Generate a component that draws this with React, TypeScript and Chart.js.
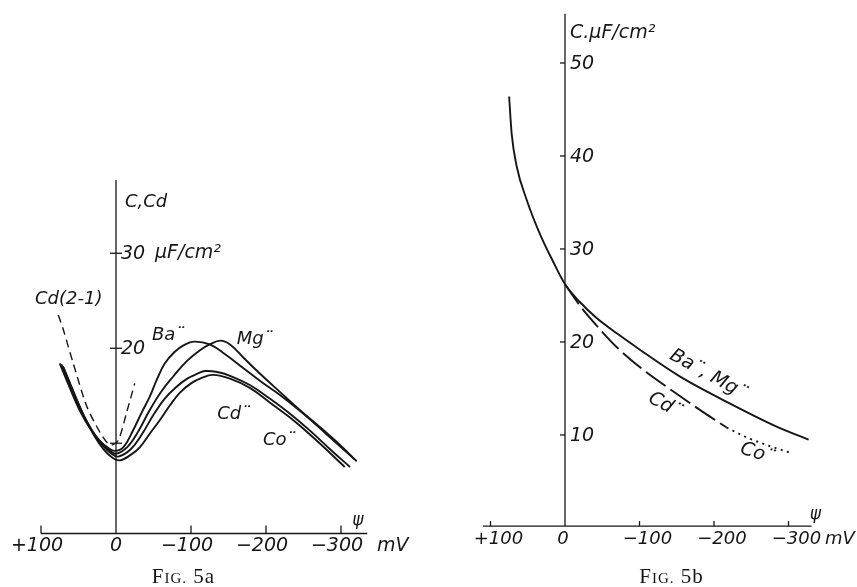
import React, { useEffect, useRef } from "react";
import { Chart, registerables } from "chart.js";

Chart.register(...registerables);

// ---------------- Fig. 5a data (psi in mV, C in µF/cm²) ----------------
const psiBaA = [75, 62, 48, 34, 21, 10, 2, -10, -23, -34, -45, -55, -65, -78, -90, -104, -125, -145, -170, -195, -220, -250, -280, -318];
const cBaA = [18.4, 15.9, 13.4, 11.5, 10.2, 9.5, 9.2, 9.6, 11.4, 13.2, 14.9, 16.8, 18.4, 19.6, 20.3, 20.7, 20.4, 19.4, 17.9, 16.4, 15.0, 13.1, 11.0, 8.3];

const psiMgA = [73, 60, 46, 32, 19, 8, 0, -15, -30, -45, -60, -76, -95, -112, -125, -139, -152, -170, -195, -220, -245, -272, -299, -321];
const cMgA = [18.3, 15.8, 13.3, 11.3, 10.0, 9.2, 8.9, 9.6, 11.3, 13.5, 15.4, 17.0, 18.7, 19.8, 20.4, 20.8, 20.4, 19.0, 17.1, 15.3, 13.5, 11.7, 9.8, 8.1];

const psiCdA = [71, 58, 44, 30, 17, 6, -3, -20, -35, -50, -65, -80, -95, -108, -119, -135, -152, -179, -205, -232, -259, -285, -312];
const cCdA = [18.1, 15.6, 13.1, 11.1, 9.7, 8.9, 8.6, 9.4, 11.0, 13.0, 14.7, 15.9, 16.8, 17.3, 17.6, 17.5, 17.1, 16.1, 14.7, 13.1, 11.3, 9.4, 7.5];

const psiCoA = [70, 57, 43, 29, 16, 5, -5, -20, -32, -45, -59, -72, -85, -100, -115, -129, -152, -179, -205, -232, -259, -285, -305];
const cCoA = [18.0, 15.5, 12.9, 10.8, 9.3, 8.5, 8.2, 8.8, 9.6, 11.0, 12.5, 14.0, 15.3, 16.3, 16.9, 17.2, 16.8, 15.8, 14.3, 12.7, 10.9, 9.0, 7.5];

const psiCd21A = [77, 70, 57, 39, 21, 8, -3, -14, -25];
const cCd21A = [23.5, 21.9, 18.4, 13.9, 11.1, 9.8, 10.3, 13.2, 16.3];

const xTicksA = [100, 0, -100, -200, -300];
const xTickLabelsA = ["+100", "0", "\u2212100", "\u2212200", "\u2212300"];
const yTicksA = [10, 20, 30];
const yTickLabelsA = ["", "20", "30"];

// ---------------- Fig. 5b data ----------------
const psiBaMgB = [75, 71.6, 64.9, 51.5, 33.6, 15.7, 0, -20, -42, -70, -100, -154, -221, -284, -327];
const cBaMgB = [46.4, 42.4, 38.9, 35.3, 31.6, 28.6, 26.2, 24.3, 22.6, 20.9, 19.2, 16.3, 13.4, 10.9, 9.5];

const psiCdB = [0, -20, -42, -70, -105, -145, -181, -217];
const cCdB = [26.2, 23.9, 21.8, 19.4, 17.0, 14.7, 12.7, 10.8];

const psiCoB = [-217, -245, -275, -306];
const cCoB = [10.8, 9.7, 8.8, 8.0];

const xTicksB = [100, 0, -100, -200, -300];
const xTickLabelsB = ["+100", "0", "\u2212100", "\u2212200", "\u2212300"];
const yTicksB = [10, 20, 30, 40, 50];
const yTickLabelsB = ["10", "20", "30", "40", "50"];

// ---------------- helpers ----------------
const INK = "#161616";
const FAM = "'DejaVu Sans', Lato, sans-serif";
const hand = (s: number) => `italic ${s}px ${FAM}`;

const zip = (xs: number[], ys: number[]) => xs.map((x, i) => ({ x, y: ys[i] }));

function seg(ctx: any, x1: number, y1: number, x2: number, y2: number) {
  ctx.beginPath();
  ctx.moveTo(x1, y1);
  ctx.lineTo(x2, y2);
  ctx.stroke();
}

function txt(ctx: any, s: string, x: number, y: number, size = 18, align = "left", rot = 0) {
  ctx.save();
  ctx.font = hand(size);
  ctx.textAlign = align;
  ctx.textBaseline = "middle";
  ctx.translate(x, y);
  if (rot) ctx.rotate((rot * Math.PI) / 180);
  ctx.fillText(s, 0, 0);
  ctx.restore();
}

function caption(ctx: any, cx: number, baseline: number, suffix: string) {
  const big = "21px 'Liberation Serif', 'DejaVu Serif', serif";
  const small = "15px 'Liberation Serif', 'DejaVu Serif', serif";
  const sp = 1;
  ctx.save();
  ctx.textBaseline = "alphabetic";
  ctx.textAlign = "left";
  const parts: [string, string][] = [
    ["F", big], ["I", small], ["G", small], [".", small], [" ", big], ["5", big], [suffix, big],
  ];
  let total = 0;
  const widths = parts.map(([s, f]) => {
    ctx.font = f;
    const w = ctx.measureText(s).width + sp;
    total += w;
    return w;
  });
  let x = cx - total / 2;
  parts.forEach(([s, f], i) => {
    ctx.font = f;
    ctx.fillText(s, x, baseline);
    x += widths[i];
  });
  ctx.restore();
}

const lineDs = (data: any[], dash: number[] = [], width = 1.9, tension = 0.4, mono = false) => ({
  data,
  borderColor: INK,
  borderWidth: width,
  borderDash: dash,
  pointRadius: 0,
  fill: false,
  tension,
  cubicInterpolationMode: mono ? "monotone" : "default",
  borderCapStyle: "butt",
});

// ---------------- plugins ----------------
const fig5aPlugin = {
  id: "fig5a",
  afterDraw(chart: any) {
    const { ctx } = chart;
    const xs = chart.scales.x;
    const ys = chart.scales.y;
    const X = (v: number) => xs.getPixelForValue(v);
    const Y = (v: number) => ys.getPixelForValue(v);
    ctx.save();
    ctx.strokeStyle = INK;
    ctx.fillStyle = INK;
    ctx.lineWidth = 1.3;
    const yb = ys.bottom;
    const x0 = X(0);
    // axes
    seg(ctx, xs.left, yb, xs.right, yb);
    seg(ctx, x0, ys.top, x0, yb);
    // x ticks
    xTicksA.forEach((v, i) => {
      if (v !== 0) seg(ctx, X(v), yb - 8, X(v), yb);
      txt(ctx, xTickLabelsA[i], X(v) - (v === 0 ? 0 : 4), yb + 13, 19, "center");
    });
    txt(ctx, "mV", X(-348), yb + 13, 19, "left");
    txt(ctx, "\u03C8", X(-315), Y(1.9), 17, "left");
    // y ticks
    yTicksA.forEach((v, i) => {
      seg(ctx, x0 - 6, Y(v), x0 + 6, Y(v));
      if (yTickLabelsA[i]) txt(ctx, yTickLabelsA[i], x0 + 5, Y(v) + 1, 19, "left");
    });
    txt(ctx, "\u03BCF/cm\u00B2", X(-52), Y(30), 19, "left");
    txt(ctx, "C,Cd", X(-12), Y(35.4), 18, "left");
    // curve labels
    txt(ctx, "Ba\u00A8", X(-48), Y(21.4), 18, "left");
    txt(ctx, "Mg\u00A8", X(-161), Y(20.9), 18, "left");
    txt(ctx, "Cd\u00A8", X(-135), Y(13.0), 18, "left");
    txt(ctx, "Co\u00A8", X(-196), Y(10.35), 18, "left");
    txt(ctx, "Cd(2-1)", X(108), Y(25.1), 18, "left");
    caption(ctx, X(-90), 583, "a");
    ctx.restore();
  },
};

const fig5bPlugin = {
  id: "fig5b",
  afterDraw(chart: any) {
    const { ctx } = chart;
    const xs = chart.scales.x;
    const ys = chart.scales.y;
    const X = (v: number) => xs.getPixelForValue(v);
    const Y = (v: number) => ys.getPixelForValue(v);
    ctx.save();
    ctx.strokeStyle = INK;
    ctx.fillStyle = INK;
    ctx.lineWidth = 1.3;
    const yb = ys.bottom;
    const x0 = X(0);
    seg(ctx, xs.left, yb, xs.right, yb);
    seg(ctx, x0, ys.top, x0, yb);
    xTicksB.forEach((v, i) => {
      if (v !== 0) seg(ctx, X(v), yb - 5, X(v), yb);
      txt(ctx, xTickLabelsB[i], X(v) + (v === 0 ? -2 : 8), yb + 13, 18, "center");
    });
    txt(ctx, "mV", X(-349), yb + 13, 18, "left");
    txt(ctx, "\u03C8", X(-336), Y(1.4), 17, "center");
    yTicksB.forEach((v, i) => {
      seg(ctx, x0 - 5, Y(v), x0, Y(v));
      txt(ctx, yTickLabelsB[i], x0 + 5, Y(v) + 1, 19, "left");
    });
    txt(ctx, "C.\u03BCF/cm\u00B2", X(-6.7), Y(53.2), 19, "left");
    txt(ctx, "Ba\u00A8, Mg\u00A8", X(-192), Y(16.5), 19, "center", 29);
    txt(ctx, "Cd\u00A8", X(-134), Y(13.2), 19, "center", 28);
    txt(ctx, "Co\u00A8", X(-258), Y(8.0), 19, "center", 18);
    caption(ctx, X(-143), 583, "b");
    ctx.restore();
  },
};

function baseOptions(xmin: number, xmax: number, ymin: number, ymax: number, pad: any) {
  return {
    responsive: false,
    maintainAspectRatio: false,
    devicePixelRatio: 1,
    animation: false,
    layout: { padding: pad },
    plugins: { legend: { display: false }, tooltip: { enabled: false }, title: { display: false } },
    scales: {
      x: { type: "linear", reverse: true, min: xmin, max: xmax, display: false },
      y: { type: "linear", min: ymin, max: ymax, display: false },
    },
  };
}

const configA = () => ({
  type: "line",
  data: {
    datasets: [
      lineDs(zip(psiBaA, cBaA)),
      lineDs(zip(psiMgA, cMgA)),
      lineDs(zip(psiCdA, cCdA)),
      lineDs(zip(psiCoA, cCoA)),
      lineDs(zip(psiCd21A, cCd21A), [8, 5], 1.4, 0.25),
    ],
  },
  options: baseOptions(-335, 100, 0.5, 37.7, { left: 41, right: 60.75, top: 180.1, bottom: 53.5 }),
  plugins: [fig5aPlugin],
});

const configB = () => ({
  type: "line",
  data: {
    datasets: [
      lineDs(zip(psiBaMgB, cBaMgB), [], 1.9, 0.4, true),
      lineDs(zip(psiCdB, cCdB), [24, 6], 1.9, 0.4, true),
      lineDs(zip(psiCoB, cCoB), [2, 4.5], 1.9, 0.4, true),
    ],
  },
  options: baseOptions(-331, 110, 0.2, 55.3, { left: 55.05, right: 45.4, top: 13.7, bottom: 60.9 }),
  plugins: [fig5bPlugin],
});

function Panel({ make, left, width }: any) {
  const ref = useRef<HTMLCanvasElement | null>(null);
  useEffect(() => {
    if (!ref.current) return;
    const chart = new Chart(ref.current, make() as any);
    return () => chart.destroy();
  }, [make]);
  return (
    <canvas
      ref={ref}
      width={width}
      height={587}
      style={{ position: "absolute", left, top: 0, width, height: 587 }}
    />
  );
}

export default function App() {
  return (
    <div style={{ position: "absolute", left: 0, top: 0, width: 857, height: 587, background: "#fff", overflow: "hidden" }}>
      <Panel make={configA} left={0} width={428} />
      <Panel make={configB} left={428} width={429} />
    </div>
  );
}
